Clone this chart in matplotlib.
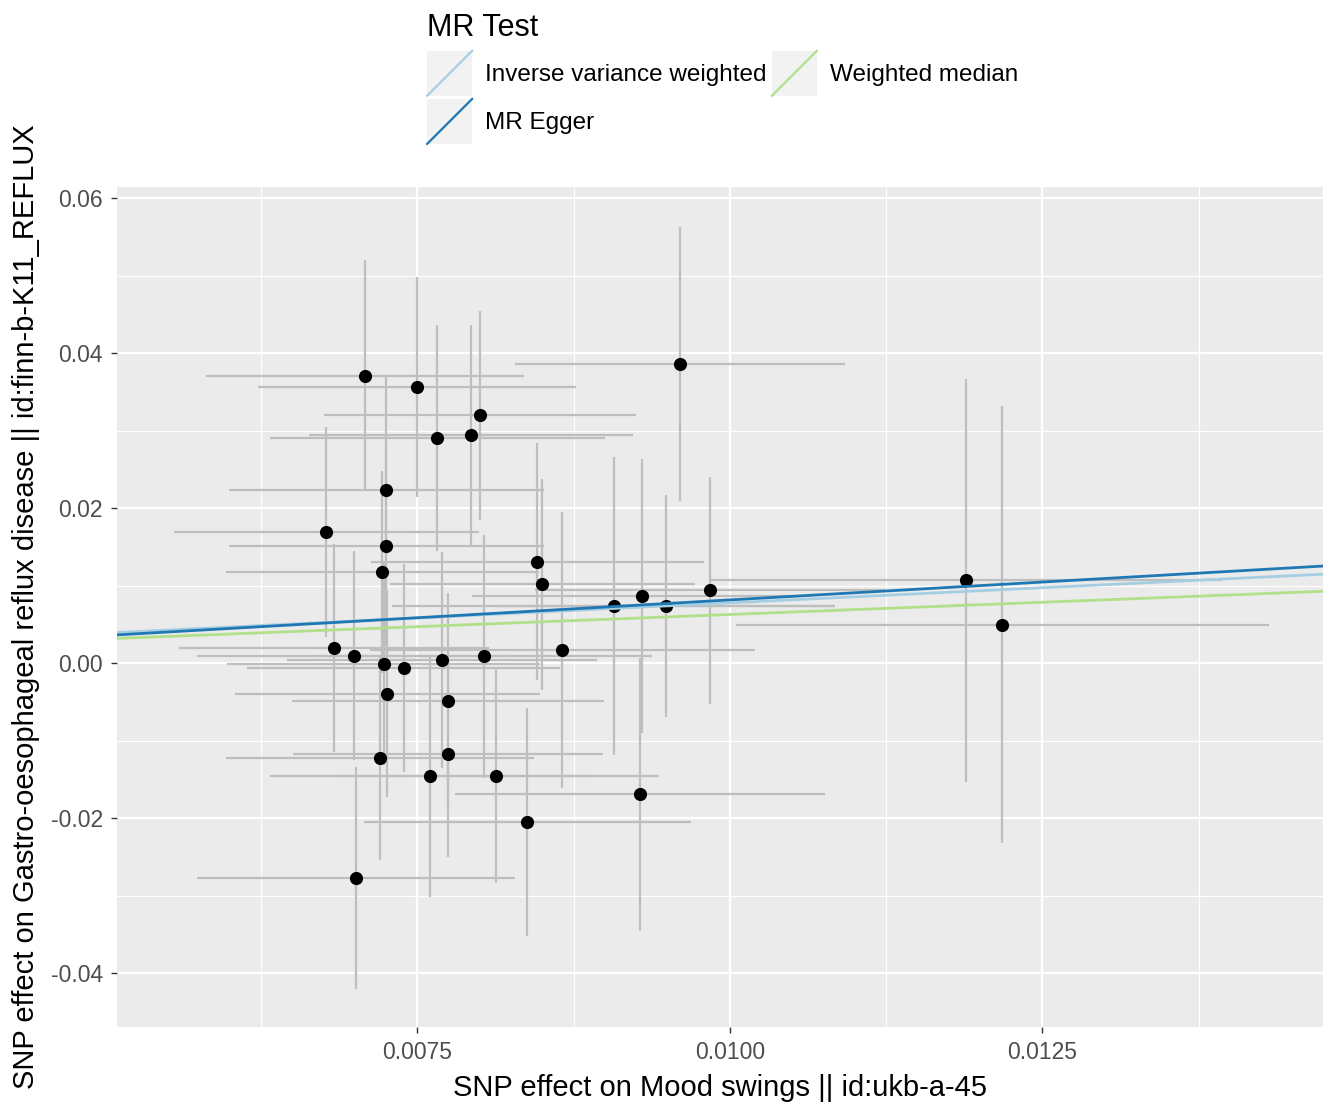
import matplotlib
matplotlib.use("Agg")
import matplotlib.pyplot as plt
import numpy as np
from matplotlib.lines import Line2D
from matplotlib.patches import Rectangle
from matplotlib.legend_handler import HandlerBase
from matplotlib.ticker import FixedLocator, FormatStrFormatter

plt.rcParams["font.family"] = ["Liberation Sans", "DejaVu Sans"]
plt.rcParams["axes.unicode_minus"] = False

# SNP effects (exposure = Mood swings, outcome = GERD)
beta_exposure = [0.00708, 0.00750, 0.00800, 0.00766, 0.00793, 0.00725, 0.00677,
                 0.00725, 0.00722, 0.00683, 0.00699, 0.00723, 0.00739, 0.00770,
                 0.00803, 0.00726, 0.007745, 0.007745, 0.00720, 0.00760, 0.00813,
                 0.00838, 0.00701, 0.00846, 0.00850, 0.00866, 0.00907, 0.00930,
                 0.00949, 0.00984, 0.00960, 0.00928, 0.01189, 0.01218]
se_exposure = [0.00127, 0.00127, 0.00125, 0.00134, 0.00130, 0.00126, 0.00122,
               0.00126, 0.00125, 0.00124, 0.00125, 0.00125, 0.00125, 0.00124,
               0.00135, 0.00122, 0.00125, 0.00124, 0.00123, 0.00128, 0.00130,
               0.00131, 0.00127, 0.00133, 0.00122, 0.00154, 0.00177, 0.00136,
               0.00135, 0.00140, 0.00132, 0.00148, 0.00205, 0.00213]
beta_outcome = [0.0371, 0.0356, 0.0320, 0.0291, 0.0294, 0.0224, 0.0169,
                0.0152, 0.0118, 0.0020, 0.0010, -0.0001, -0.0006, 0.0004,
                0.0009, -0.0039, -0.0048, -0.0117, -0.0122, -0.0146, -0.0146,
                -0.0205, -0.0277, 0.0131, 0.0102, 0.0017, 0.0074, 0.0087,
                0.0074, 0.0094, 0.0386, -0.0169, 0.0107, 0.0050]
se_outcome = [0.0149, 0.0142, 0.0135, 0.0146, 0.0142, 0.0146, 0.01355,
              0.0130, 0.0130, 0.0134, 0.0135, 0.0130, 0.0134, 0.0139,
              0.0157, 0.0133, 0.0139, 0.0133, 0.0132, 0.0156, 0.0137,
              0.0147, 0.0143, 0.0153, 0.0136, 0.0178, 0.0192, 0.0177,
              0.0143, 0.0146, 0.0177, 0.0176, 0.0260, 0.0282]

# MR estimates (intercept, slope)
methods = ["Inverse variance weighted", "MR Egger", "Weighted median"]
intercepts = [0.0, -0.00103, 0.0]
slopes = [0.78, 0.921, 0.63]
colours = ["#A6CEE3", "#1F78B4", "#B2DF8A"]


class KeyHandler(HandlerBase):
    # ggplot-style legend key: grey square with a diagonal line
    def create_artists(self, legend, orig_handle, xdescent, ydescent,
                       width, height, fontsize, trans):
        x0 = -xdescent
        cy = -ydescent + height / 2
        y0 = cy - width / 2
        bg = Rectangle((x0, y0), width, width,
                       facecolor="#F2F2F2", edgecolor="none", transform=trans)
        ln = Line2D([x0, x0 + width], [y0, y0 + width],
                    color=orig_handle.get_color(), lw=1.6, transform=trans)
        return [bg, ln]


fig = plt.figure(figsize=(13.31, 11.03), dpi=100)
ax = fig.add_axes([117 / 1331, 1 - 1027 / 1103, (1323 - 117) / 1331, (1027 - 187) / 1103])
ax.set_facecolor("#EBEBEB")

ax.errorbar(beta_exposure, beta_outcome, yerr=se_outcome, fmt="none",
            ecolor="#BEBEBE", elinewidth=1.6, capsize=0, zorder=2)
ax.errorbar(beta_exposure, beta_outcome, xerr=se_exposure, fmt="none",
            ecolor="#BEBEBE", elinewidth=1.6, capsize=0, zorder=2)
ax.scatter(beta_exposure, beta_outcome, s=90, color="black", zorder=3, linewidths=0)

handles = []
for m, a, b, c in zip(methods, intercepts, slopes, colours):
    ax.axline((0, a), slope=b, color=c, lw=2.0, zorder=4)
    handles.append(Line2D([], [], color=c, lw=2.0, label=m))

ax.set_xlim(0.005098, 0.014746)
ax.set_ylim(-0.04693, 0.06146)

ax.xaxis.set_major_locator(FixedLocator([0.0075, 0.0100, 0.0125]))
ax.xaxis.set_minor_locator(FixedLocator([0.00625, 0.00875, 0.01125, 0.01375]))
ax.yaxis.set_major_locator(FixedLocator([-0.04, -0.02, 0.0, 0.02, 0.04, 0.06]))
ax.yaxis.set_minor_locator(FixedLocator([-0.03, -0.01, 0.01, 0.03, 0.05]))
ax.xaxis.set_major_formatter(FormatStrFormatter("%.4f"))
ax.yaxis.set_major_formatter(FormatStrFormatter("%.2f"))

ax.grid(which="major", color="white", lw=1.6)
ax.grid(which="minor", color="white", lw=0.8)
ax.set_axisbelow(True)
for s in ax.spines.values():
    s.set_visible(False)
ax.tick_params(which="major", length=4, width=1, color="#333333",
               labelsize=16.5, labelcolor="#4D4D4D", pad=6)
ax.tick_params(which="minor", length=0)

ax.set_xlabel("SNP effect on Mood swings || id:ukb-a-45", fontsize=21, labelpad=7)
ax.set_ylabel("SNP effect on Gastro-oesophageal reflux disease || id:finn-b-K11_REFLUX",
              fontsize=21, labelpad=8)

fig.legend(handles=handles, labels=methods, handler_map={Line2D: KeyHandler()},
           loc="upper left", bbox_to_anchor=(415 / 1331, 1 - 1 / 1103),
           ncol=2, frameon=False, fontsize=17.5, title="MR Test",
           title_fontsize=22, alignment="left", borderpad=0,
           handlelength=1.85, handleheight=1.9, labelspacing=0.5,
           handletextpad=0.55, columnspacing=0.2)

fig.savefig("out.png", dpi=100)
